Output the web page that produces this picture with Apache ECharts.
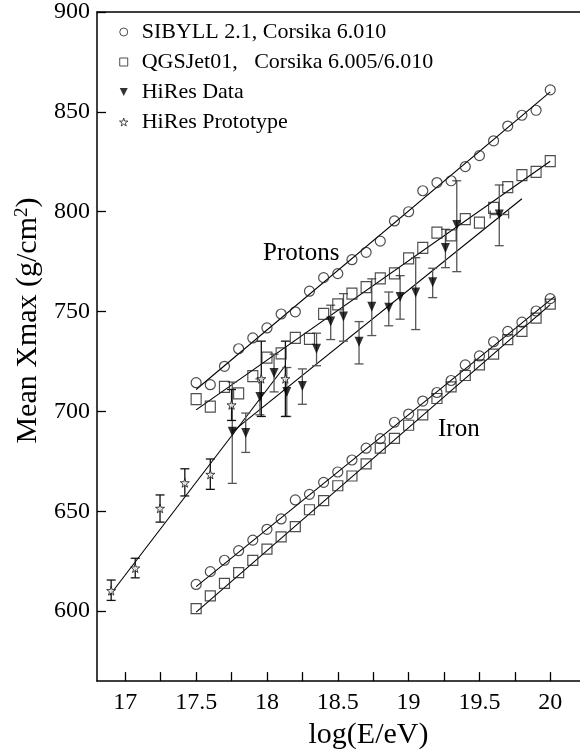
<!DOCTYPE html>
<html>
<head>
<meta charset="utf-8">
<title>Mean Xmax vs log(E/eV)</title>
<script src="https://cdn.jsdelivr.net/npm/echarts@6/dist/echarts.min.js"></script>
<style>
  html, body { margin: 0; padding: 0; background: #fff; }
  #chart { width: 580px; height: 755px; }
</style>
</head>
<body>
<div id="chart"></div>
<script>
// 模拟能量点 log10(E/eV)
const mcEnergy = [17.5, 17.6, 17.7, 17.8, 17.9, 18.0, 18.1, 18.2, 18.3, 18.4, 18.5, 18.6, 18.7,
  18.8, 18.9, 19.0, 19.1, 19.2, 19.3, 19.4, 19.5, 19.6, 19.7, 19.8, 19.9, 20.0]
// 质子 / 铁核 模拟 Xmax
const sibyllProton = [714.4, 713.4, 722.6, 731.4, 736.8, 741.8, 748.8, 749.9, 760.2, 767.0, 769.0, 776.0, 779.7,
  785.3, 795.4, 800.0, 810.5, 814.6, 815.5, 822.6, 828.1, 835.5, 842.9, 848.3, 850.8, 861.0]
const qgsProton = [706.2, 702.4, 712.3, 709.0, 717.7, 727.0, 729.1, 736.8, 736.3, 748.8, 753.6, 759.0, 762.3,
  766.6, 769.1, 776.6, 781.9, 789.5, 788.2, 796.3, 794.6, 801.9, 812.3, 818.3, 820.0, 825.3]
const sibyllIron = [613.4, 619.8, 625.5, 630.3, 635.6, 641.0, 646.2, 655.7, 658.5, 664.5, 669.7, 675.7, 681.6,
  686.4, 694.6, 698.7, 705.2, 709.5, 715.5, 723.3, 727.8, 734.9, 740.1, 744.7, 750.3, 756.5]
const qgsIron = [601.3, 607.7, 613.9, 619.3, 625.4, 631.1, 637.2, 642.3, 650.8, 655.4, 662.8, 667.7, 673.8,
  681.6, 686.5, 693.1, 698.3, 706.5, 712.3, 718.0, 723.3, 728.7, 736.0, 740.1, 746.7, 753.7]

// HiRes 数据
const hiresEnergy = [17.755, 17.85, 17.95, 18.05, 18.14, 18.25, 18.35, 18.45, 18.54, 18.65, 18.74, 18.86,
  18.94, 19.05, 19.17, 19.26, 19.34, 19.64]
const hiresXmax = [689.8, 689.2, 707.3, 719.3, 709.8, 712.7, 731.4, 745.0, 747.5, 734.9, 752.4, 751.9,
  757.3, 759.5, 764.7, 781.9, 793.4, 798.6]
const hiresLow = [664.0, 679.5, 698.3, 709.8, 697.5, 703.6, 722.9, 736.0, 735.2, 723.8, 738.0, 742.9,
  746.2, 741.0, 757.0, 772.0, 770.0, 783.0]
const hiresHigh = [714.7, 699.2, 716.3, 728.7, 722.0, 721.3, 739.2, 753.2, 759.0, 745.0, 766.4, 759.8,
  768.0, 777.0, 771.7, 791.2, 815.5, 813.4]
// 最后一个点的能量误差
const hiresLastELow = 19.576
const hiresLastEHigh = 19.706

// HiRes 原型
const protoEnergy = [16.9, 17.07, 17.245, 17.42, 17.6, 17.75, 17.96, 18.13]
const protoXmax = [610.3, 621.6, 651.5, 664.3, 668.5, 703.3, 716.4, 716.4]
const protoLow = [605.4, 616.7, 644.6, 657.7, 661.0, 695.5, 697.5, 697.5]
const protoHigh = [615.6, 626.5, 658.2, 671.3, 676.2, 711.0, 735.2, 735.2]

// 拟合直线的端点
const sibyllProtonFit = [[17.5, 711.0], [20.0, 860.0]]
const qgsProtonFit = [[17.5, 700.8], [20.0, 825.3]]
const sibyllIronFit = [[17.5, 612.3], [20.03, 757.5]]
const qgsIronFit = [[17.5, 599.5], [20.0, 753.5]]
const hiresFit = [[17.75, 689.5], [19.8, 806.5]]
const protoFit = [[16.89, 608.0], [18.13, 723.0]]

// 刻度
const xTicks = [17, 17.25, 17.5, 17.75, 18, 18.25, 18.5, 18.75, 19, 19.25, 19.5, 19.75, 20]
const xLabels = [17, 17.5, 18, 18.5, 19, 19.5, 20]
const yLabels = [600, 650, 700, 750, 800, 850, 900]

const font = '"Liberation Serif", "Times New Roman", serif'
const names = ['SIBYLL 2.1, Corsika 6.010', 'QGSJet01,   Corsika 6.005/6.010', 'HiRes Data', 'HiRes Prototype']
const starPath = 'path://M50,0 L61,35 L98,35 L68,57 L79,91 L50,70 L21,91 L32,57 L2,35 L39,35 Z'
const squarePath = 'path://M0,0 L10,0 L10,10 L0,10 Z'
const downTriangle = 'path://M0,0 L10,0 L5,10 Z'

const pairs = (xs, ys) => xs.map((x, i) => [x, ys[i]])
const bars = (xs, lo, hi) => xs.map((x, i) => [x, lo[i], hi[i]])

// 竖直误差线
function vErrorBar (color, cap) {
  return function (params, api) {
    const x = api.value(0)
    const top = api.coord([x, api.value(2)])
    const bottom = api.coord([x, api.value(1)])
    const style = { stroke: color, lineWidth: 1.3 }
    return {
      type: 'group',
      children: [
        { type: 'line', shape: { x1: top[0], y1: top[1], x2: bottom[0], y2: bottom[1] }, style },
        { type: 'line', shape: { x1: top[0] - cap / 2, y1: top[1], x2: top[0] + cap / 2, y2: top[1] }, style },
        { type: 'line', shape: { x1: bottom[0] - cap / 2, y1: bottom[1], x2: bottom[0] + cap / 2, y2: bottom[1] }, style }
      ]
    }
  }
}

// 水平误差线
function hErrorBar (params, api) {
  const y = api.value(0)
  const left = api.coord([api.value(1), y])
  const right = api.coord([api.value(2), y])
  const style = { stroke: '#555', lineWidth: 1.3 }
  return {
    type: 'group',
    children: [
      { type: 'line', shape: { x1: left[0], y1: left[1], x2: right[0], y2: right[1] }, style },
      { type: 'line', shape: { x1: left[0], y1: left[1] - 4, x2: left[0], y2: left[1] + 4 }, style },
      { type: 'line', shape: { x1: right[0], y1: right[1] - 4, x2: right[0], y2: right[1] + 4 }, style }
    ]
  }
}

function fitLine (data) {
  return {
    type: 'line',
    data: data,
    symbol: 'none',
    silent: true,
    lineStyle: { color: '#000', width: 1.1 },
    z: 1
  }
}

const hollow = { color: 'rgba(0,0,0,0)', borderColor: '#222', borderWidth: 1.2 }
const legendHollow = { color: '#fff', borderColor: '#222', borderWidth: 1 }

const chart = echarts.init(document.getElementById('chart'))
chart.setOption({
  animation: false,
  backgroundColor: '#fff',
  grid: { left: 97, right: 0, top: 11, bottom: 64 },
  legend: {
    orient: 'vertical',
    left: 114,
    top: 16,
    itemWidth: 26,
    itemHeight: 8,
    itemGap: 8,
    selectedMode: false,
    data: [
      { name: names[0], icon: 'circle', itemStyle: legendHollow },
      { name: names[1], icon: squarePath, itemStyle: legendHollow },
      { name: names[2], icon: downTriangle, itemStyle: { color: '#000', borderWidth: 0 } },
      { name: names[3], icon: starPath, itemStyle: legendHollow }
    ],
    textStyle: { fontFamily: font, fontSize: 22, lineHeight: 22, color: '#000' }
  },
  xAxis: [
    {
      type: 'value',
      min: 16.8,
      max: 20.21,
      axisLine: { onZero: false, lineStyle: { color: '#000', width: 1.5 } },
      axisTick: { inside: true, length: 9, customValues: xTicks, lineStyle: { color: '#000', width: 1.3 } },
      axisLabel: { customValues: xLabels, fontFamily: font, fontSize: 24, color: '#000', margin: 10 },
      splitLine: { show: false },
      name: 'log(E/eV)',
      nameLocation: 'middle',
      nameGap: 32,
      nameTextStyle: { fontFamily: font, fontSize: 30, color: '#000', padding: [0, 0, 0, 60] }
    },
    {
      type: 'value',
      position: 'top',
      min: 16.8,
      max: 20.21,
      axisLine: { show: true, onZero: false, lineStyle: { color: '#000', width: 1.5 } },
      axisTick: { show: false },
      axisLabel: { show: false },
      splitLine: { show: false }
    }
  ],
  yAxis: {
    type: 'value',
    min: 565,
    max: 900,
    axisLine: { show: true, onZero: false, lineStyle: { color: '#000', width: 1.5 } },
    axisTick: { inside: true, length: 9, customValues: yLabels, lineStyle: { color: '#000', width: 1.3 } },
    axisLabel: { customValues: yLabels, fontFamily: font, fontSize: 24, color: '#000', margin: 7 },
    splitLine: { show: false },
    name: 'Mean Xmax (g/cm{sup|2})',
    nameLocation: 'middle',
    nameGap: 45,
    nameTextStyle: {
      fontFamily: font,
      fontSize: 30,
      color: '#000',
      padding: [0, 0, 0, 52],
      rich: { sup: { fontFamily: font, fontSize: 19, color: '#000', verticalAlign: 'top', padding: [0, 0, 12, 0] } }
    }
  },
  graphic: [
    { type: 'text', left: 263, top: 241, style: { text: 'Protons', font: '25px ' + font, fill: '#000' } },
    { type: 'text', left: 438, top: 417, style: { text: 'Iron', font: '25px ' + font, fill: '#000' } }
  ],
  series: [
    fitLine(sibyllProtonFit),
    fitLine(qgsProtonFit),
    fitLine(sibyllIronFit),
    fitLine(qgsIronFit),
    fitLine(hiresFit),
    fitLine(protoFit),
    {
      type: 'custom',
      renderItem: vErrorBar('#555', 9),
      data: bars(hiresEnergy, hiresLow, hiresHigh),
      encode: { x: 0, y: [1, 2] },
      silent: true,
      z: 2
    },
    {
      type: 'custom',
      renderItem: hErrorBar,
      data: [[hiresXmax[hiresXmax.length - 1], hiresLastELow, hiresLastEHigh]],
      encode: { x: [1, 2], y: 0 },
      silent: true,
      z: 2
    },
    {
      type: 'custom',
      renderItem: vErrorBar('#111', 9),
      data: bars(protoEnergy, protoLow, protoHigh),
      encode: { x: 0, y: [1, 2] },
      silent: true,
      z: 2
    },
    {
      name: names[0],
      type: 'scatter',
      symbol: 'circle',
      symbolSize: 10,
      itemStyle: hollow,
      data: pairs(mcEnergy, sibyllProton),
      z: 3
    },
    {
      name: names[0],
      type: 'scatter',
      symbol: 'circle',
      symbolSize: 10,
      itemStyle: hollow,
      data: pairs(mcEnergy, sibyllIron),
      z: 3
    },
    {
      name: names[1],
      type: 'scatter',
      symbol: squarePath,
      symbolSize: [10, 11],
      symbolKeepAspect: false,
      itemStyle: hollow,
      data: pairs(mcEnergy, qgsProton),
      z: 3
    },
    {
      name: names[1],
      type: 'scatter',
      symbol: squarePath,
      symbolSize: 10,
      itemStyle: hollow,
      data: pairs(mcEnergy, qgsIron),
      z: 3
    },
    {
      name: names[2],
      type: 'scatter',
      symbol: downTriangle,
      symbolSize: [9, 10],
      itemStyle: { color: '#000' },
      data: pairs(hiresEnergy, hiresXmax),
      z: 4
    },
    {
      name: names[3],
      type: 'scatter',
      symbol: starPath,
      symbolSize: 9,
      itemStyle: { color: '#fff', borderColor: '#111', borderWidth: 1 },
      data: pairs(protoEnergy, protoXmax),
      z: 4
    }
  ]
})
</script>
</body>
</html>
